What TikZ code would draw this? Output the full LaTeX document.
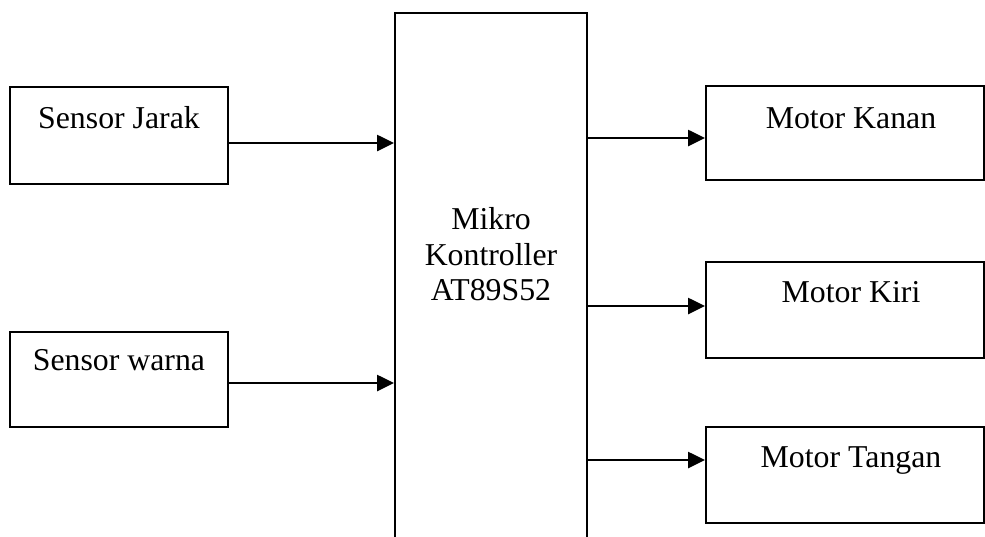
\documentclass[tikz,border=0pt]{standalone}
\usepackage{fontspec}
\setmainfont{Liberation Serif}
\usetikzlibrary{arrows.meta}

\tikzset{
  blok/.style={draw, line width=1pt, inner sep=0pt},
  teks/.style={anchor=north, inner sep=0pt, align=center,
    font=\fontsize{15.9}{17.8}\selectfont},
  panah/.style={line width=1.3pt, -{Triangle[length=8.5pt,width=8pt]}}
}

\begin{document}
\begin{tikzpicture}[x=0.5pt, y=-0.5pt]
        \useasboundingbox (0,0) rectangle (985,536);

        % Sensors
        \node[blok, minimum width=109pt, minimum height=48.5pt,
          label={[teks, yshift=-10pt]north:Sensor Jarak}] (sj) at (119,135.5) {};
        \node[blok, minimum width=109pt, minimum height=47.5pt,
          label={[teks, yshift=-9pt]north:Sensor warna}] (sw) at (119,379.5) {};

        % Microcontroller
        \node[blok, minimum width=96pt, minimum height=273.5pt,
          label={[teks, yshift=-97.5pt]north:Mikro\\Kontroller\\AT89S52}] (mk) at (491,286.5) {};

        % Motors
        \node[blok, minimum width=139pt, minimum height=47pt,
          label={[teks, xshift=3pt, yshift=-11pt]north:Motor Kanan}] (mka) at (845,133) {};
        \node[blok, minimum width=139pt, minimum height=48pt,
          label={[teks, xshift=3pt, yshift=-10pt]north:Motor Kiri}] (mki) at (845,310) {};
        \node[blok, minimum width=139pt, minimum height=48pt,
          label={[teks, xshift=3pt, yshift=-10pt]north:Motor Tangan}] (mt) at (845,475) {};

        % Inputs
        \draw[panah] (sj.east |- 0,143) -- (mk.west |- 0,143);
        \draw[panah] (sw.east |- 0,383) -- (mk.west |- 0,383);

        % Outputs
        \draw[panah] (mk.east |- 0,138) -- (mka.west |- 0,138);
        \draw[panah] (mk.east |- 0,306) -- (mki.west |- 0,306);
        \draw[panah] (mk.east |- 0,460) -- (mt.west |- 0,460);

    \end{tikzpicture}
\end{document}
